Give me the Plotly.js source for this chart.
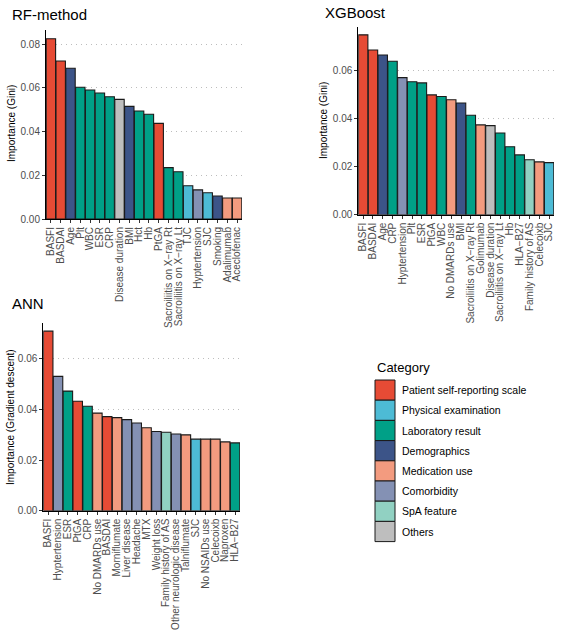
<!DOCTYPE html>
<html>
<head>
<meta charset="utf-8">
<script src="https://cdn.plot.ly/plotly-3.0.1.min.js"></script>
<style>html,body{margin:0;padding:0;background:#fff}#chart{width:564px;height:631px}</style>
</head>
<body>
<div id="chart"></div>
<script>
// Categories and colours
const categoryNames = ["Patient self-reporting scale","Physical examination","Laboratory result","Demographics","Medication use","Comorbidity","SpA feature","Others"];
const categoryColors = ["#E64B35","#4DBBD5","#00A087","#3C5488","#F39B7F","#8491B4","#91D1C2","#BEBEBE"];

// RF-method
const rfLabels = ["BASFI","BASDAI","Age","Plt","WBC","ESR","CRP","Disease duration","BMI","Hct","Hb","PtGA","Sacroiliitis on X\u2212ray Rt","Sacroiliitis on X\u2212ray Lt","TJC","Hyptertension","SJC","Smoking","Adalimumab","Aceclofenac"];
const rfValues = [0.0824,0.0722,0.0689,0.0602,0.0590,0.0576,0.0559,0.0547,0.0515,0.0494,0.0479,0.0437,0.0235,0.0216,0.0152,0.0133,0.0120,0.0105,0.0096,0.0096];
const rfCats = ["Patient self-reporting scale","Patient self-reporting scale","Demographics","Laboratory result","Laboratory result","Laboratory result","Laboratory result","Others","Demographics","Laboratory result","Laboratory result","Patient self-reporting scale","Laboratory result","Laboratory result","Physical examination","Comorbidity","Physical examination","Demographics","Medication use","Medication use"];

// XGBoost
const xgbLabels = ["BASFI","BASDAI","Age","CRP","Hyptertension","Plt","ESR","PtGA","WBC","No DMARDs use","BMI","Sacroiliitis on X\u2212ray Rt","Golimumab","Disease duration","Sacroiliitis on X\u2212ray Lt","Hb","HLA\u2212B27","Family history of AS","Celecoixb","SJC"];
const xgbValues = [0.0749,0.0686,0.0665,0.0639,0.0571,0.0554,0.0549,0.0499,0.0492,0.0479,0.0465,0.0414,0.0374,0.0371,0.0340,0.0283,0.0249,0.0229,0.0220,0.0217];
const xgbCats = ["Patient self-reporting scale","Patient self-reporting scale","Demographics","Laboratory result","Comorbidity","Laboratory result","Laboratory result","Patient self-reporting scale","Laboratory result","Medication use","Demographics","Laboratory result","Medication use","Others","Laboratory result","Laboratory result","Laboratory result","SpA feature","Medication use","Physical examination"];

// ANN
const annLabels = ["BASFI","Hyptertension","ESR","PtGA","CRP","No DMARDs use","BASDAI","Morniflumate","Liver disease","Headache","MTX","Weight loss","Family history of AS","Other neurologic disease","Talniflumate","SJC","No NSAIDs use","Celecoixb","Naproxen","HLA\u2212B27"];
const annValues = [0.0710,0.0531,0.0473,0.0433,0.0413,0.0386,0.0372,0.0368,0.0360,0.0347,0.0328,0.0313,0.0310,0.0303,0.0300,0.0283,0.0283,0.0283,0.0272,0.0268];
const annCats = ["Patient self-reporting scale","Comorbidity","Laboratory result","Patient self-reporting scale","Laboratory result","Medication use","Patient self-reporting scale","Medication use","Comorbidity","Comorbidity","Medication use","Comorbidity","SpA feature","Comorbidity","Medication use","Physical examination","Medication use","Medication use","Medication use","Laboratory result"];

const W = 564, H = 631;
const px = v => v / W;
const py = v => 1 - v / H;
const FONT = "Liberation Sans, Arial, sans-serif";
const colorOf = c => categoryColors[categoryNames.indexOf(c)];

function barTrace(labels, values, cats, xa, ya) {
  return {
    type: "bar", x: labels, y: values, xaxis: xa, yaxis: ya,
    marker: { color: cats.map(colorOf), line: { color: "#1a1a1a", width: 1.1 } },
    showlegend: false, hoverinfo: "x+y"
  };
}

const data = [
  barTrace(rfLabels, rfValues, rfCats, "x", "y"),
  barTrace(xgbLabels, xgbValues, xgbCats, "x2", "y2"),
  barTrace(annLabels, annValues, annCats, "x3", "y3")
];

function xAxis(domain, anchor) {
  return {
    domain: domain, anchor: anchor, type: "category", range: [-0.5, 19.5],
    tickmode: "linear", tick0: 0, dtick: 1,
    showline: true, linecolor: "#000", linewidth: 1, ticks: "outside", ticklen: 3,
    tickcolor: "#333", tickwidth: 1, tickangle: -90, showgrid: false, zeroline: false,
    tickfont: { family: FONT, size: 10, color: "#4D4D4D" }, automargin: false, fixedrange: true
  };
}
function yAxis(domain, anchor, top) {
  return {
    domain: domain, anchor: anchor, range: [0, top], dtick: 0.02, tick0: 0, tickformat: ".2f",
    showline: true, linecolor: "#000", linewidth: 1, ticks: "outside", ticklen: 3,
    tickcolor: "#333", tickwidth: 1, showgrid: true, gridcolor: "#BDBDBD", griddash: "1px,4px",
    gridwidth: 1, zeroline: false,
    tickfont: { family: FONT, size: 10, color: "#4D4D4D" }, automargin: false, fixedrange: true
  };
}

const annotations = [
  { text: "RF-method", x: px(10), y: py(14), xanchor: "left", yanchor: "middle" },
  { text: "XGBoost", x: px(323), y: py(12), xanchor: "left", yanchor: "middle" },
  { text: "ANN", x: px(10), y: py(303), xanchor: "left", yanchor: "middle" }
].map(a => Object.assign({ xref: "paper", yref: "paper", showarrow: false, font: { family: FONT, size: 15, color: "#000" } }, a));

const yTitles = [
  { text: "Importance (Gini)", x: px(12), y: py(124) },
  { text: "Importance (Gini)", x: px(323), y: py(121) },
  { text: "Importance (Gradient descent)", x: px(10), y: py(417) }
];
yTitles.forEach(t => annotations.push({
  xref: "paper", yref: "paper", x: t.x, y: t.y, text: t.text, textangle: -90,
  showarrow: false, xanchor: "center", yanchor: "middle", font: { family: FONT, size: 10, color: "#000" }
}));

// Legend (drawn manually)
const shapes = [];
annotations.push({ xref: "paper", yref: "paper", x: px(375), y: py(367), text: "Category", showarrow: false,
  xanchor: "left", yanchor: "middle", font: { family: FONT, size: 13, color: "#000" } });
const keyTop = 380, keyH = 20.2;
categoryNames.forEach((name, i) => {
  const y0 = keyTop + i * keyH;
  shapes.push({ type: "rect", xref: "paper", yref: "paper", x0: px(375), x1: px(395), y0: py(y0 + keyH), y1: py(y0),
    fillcolor: categoryColors[i], line: { color: "#1a1a1a", width: 1 } });
  annotations.push({ xref: "paper", yref: "paper", x: px(400), y: py(y0 + keyH / 2), text: name, showarrow: false,
    xanchor: "left", yanchor: "middle", font: { family: FONT, size: 10.5, color: "#000" } });
});

const layout = {
  width: W, height: H, margin: { l: 0, r: 0, t: 0, b: 0 },
  paper_bgcolor: "#fff", plot_bgcolor: "rgba(0,0,0,0)",
  bargap: 0.04, showlegend: false,
  font: { family: FONT },
  xaxis: xAxis([px(46), px(242)], "y"),
  yaxis: yAxis([py(219), py(30)], "x", 0.0864),
  xaxis2: xAxis([px(358.3), px(554)], "y2"),
  yaxis2: yAxis([py(214.7), py(26.7)], "x2", 0.0783),
  xaxis3: xAxis([px(43.3), px(240)], "y3"),
  yaxis3: yAxis([py(510.7), py(323.3)], "x3", 0.0741),
  annotations: annotations, shapes: shapes
};

Plotly.newPlot("chart", data, layout, { displayModeBar: false, staticPlot: true });
</script>
</body>
</html>
